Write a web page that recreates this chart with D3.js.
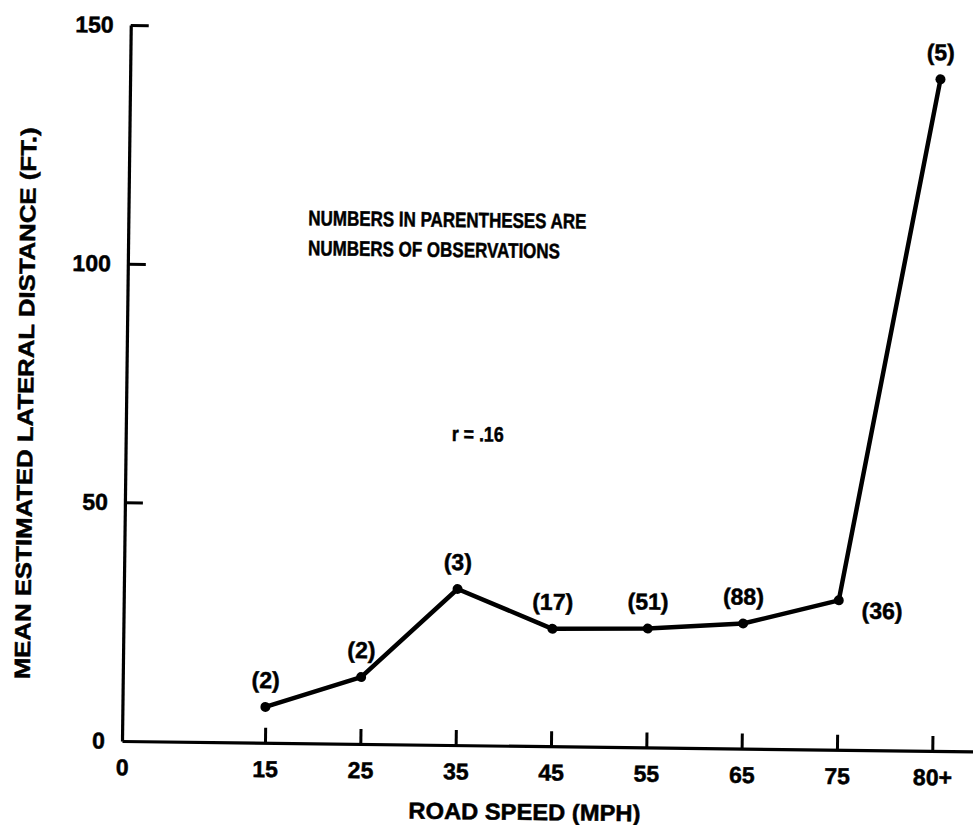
<!DOCTYPE html>
<html>
<head>
<meta charset="utf-8">
<script src="https://cdn.jsdelivr.net/npm/d3@7"></script>
<style>
  html, body { margin: 0; padding: 0; background: #fff; }
  svg { display: block; }
  text { font-family: "Liberation Sans", Arial, Helvetica, sans-serif; font-weight: bold; fill: #000; stroke: #000; stroke-width: 0.5px; }
</style>
</head>
<body>
<svg id="chart" width="973" height="825"></svg>
<script>
// Road speed classes (the last class, "80+", sits one step past 75)
const speeds = [15, 25, 35, 45, 55, 65, 75, 85];
const speedLabels = ["15", "25", "35", "45", "55", "65", "75", "80+"];
// Mean estimated lateral distance (ft) for each speed class
const meanDistance = [7.5, 14, 32.7, 24.6, 24.9, 26.2, 31.3, 140.7];
// Number of observations behind each mean
const observations = [2, 2, 3, 17, 51, 88, 36, 5];
// Axis ticks
const xTickValues = [0, 15, 25, 35, 45, 55, 65, 75, 85];
const xTickLabels = ["0", "15", "25", "35", "45", "55", "65", "75", "80+"];
const yTickValues = [0, 50, 100, 150];

const svg = d3.select("#chart");
svg.append("rect").attr("width", 973).attr("height", 825).attr("fill", "#fff");

// Plot frame: origin at the axes corner, slightly turned like the printed page
const g = svg.append("g").attr("transform", "translate(122,741) rotate(0.7)");

const x = d3.scaleLinear().domain([0, 90]).range([0, 858]);
const y = d3.scaleLinear().domain([0, 150]).range([0, -716]);

// X axis with inward ticks
const xAxis = d3.axisBottom(x)
  .tickValues(xTickValues)
  .tickFormat((d, i) => xTickLabels[i])
  .tickSizeInner(-15)
  .tickSizeOuter(0)
  .tickPadding(18);
const gx = g.append("g").call(xAxis);
gx.select(".domain").attr("stroke", "#000").attr("stroke-width", 3.2);
gx.selectAll(".tick line").attr("stroke", "#000").attr("stroke-width", 3)
  .filter(d => d === 0).remove();
gx.selectAll(".tick text").attr("font-size", 23).attr("fill", "#000");

// Y axis with inward ticks
const yAxis = d3.axisLeft(y)
  .tickValues(yTickValues)
  .tickSizeInner(-18)
  .tickSizeOuter(0)
  .tickPadding(17);
const gy = g.append("g").call(yAxis);
gy.select(".domain").attr("stroke", "#000").attr("stroke-width", 3.2);
gy.selectAll(".tick line").attr("stroke", "#000").attr("stroke-width", 3)
  .filter(d => d === 0).remove();
gy.selectAll(".tick text").attr("font-size", 23).attr("fill", "#000");
svg.selectAll("g").attr("font-family", null);

// Axis titles
g.append("text")
  .attr("x", x(42.3))
  .attr("y", 74)
  .attr("text-anchor", "middle")
  .attr("font-size", 23)
  .attr("textLength", 232)
  .attr("lengthAdjust", "spacingAndGlyphs")
  .text("ROAD SPEED (MPH)");

g.append("text")
  .attr("transform", "translate(-93," + y(70.5) + ") rotate(-90)")
  .attr("text-anchor", "middle")
  .attr("font-size", 22)
  .attr("textLength", 552)
  .attr("lengthAdjust", "spacingAndGlyphs")
  .text("MEAN ESTIMATED LATERAL DISTANCE (FT.)");

// Data series
const pts = speeds.map((s, i) => [x(s), y(meanDistance[i])]);
g.append("path")
  .attr("d", d3.line()(pts))
  .attr("fill", "none")
  .attr("stroke", "#000")
  .attr("stroke-width", 4.5)
  .attr("stroke-linejoin", "round")
  .attr("stroke-linecap", "round");

g.selectAll("circle.pt")
  .data(speeds)
  .join("circle")
  .attr("class", "pt")
  .attr("cx", (d) => x(d))
  .attr("cy", (d, i) => y(meanDistance[i]))
  .attr("r", 5)
  .attr("fill", "#000");

// Observation counts; the 75 mph count sits to the right of its point
g.selectAll("text.obs")
  .data(speeds)
  .join("text")
  .attr("class", "obs")
  .attr("font-size", 23)
  .attr("text-anchor", (d, i) => speedLabels[i] === "75" ? "start" : "middle")
  .attr("x", (d, i) => x(d) + (speedLabels[i] === "75" ? 23 : 0))
  .attr("y", (d, i) => y(meanDistance[i]) + (speedLabels[i] === "75" ? 18 : -19))
  .text((d, i) => "(" + observations[i] + ")");

// Notes
const note = g.append("g").attr("transform", "translate(180,-518)");
note.append("text").attr("font-size", 21)
  .attr("textLength", 278).attr("lengthAdjust", "spacingAndGlyphs")
  .text("NUMBERS IN PARENTHESES ARE");
note.append("text").attr("y", 30).attr("font-size", 21)
  .attr("textLength", 252).attr("lengthAdjust", "spacingAndGlyphs")
  .text("NUMBERS OF OBSERVATIONS");

g.append("text")
  .attr("x", 352).attr("y", -304)
  .attr("text-anchor", "middle")
  .attr("font-size", 21)
  .attr("textLength", 52).attr("lengthAdjust", "spacingAndGlyphs")
  .text("r = .16");
</script>
</body>
</html>
